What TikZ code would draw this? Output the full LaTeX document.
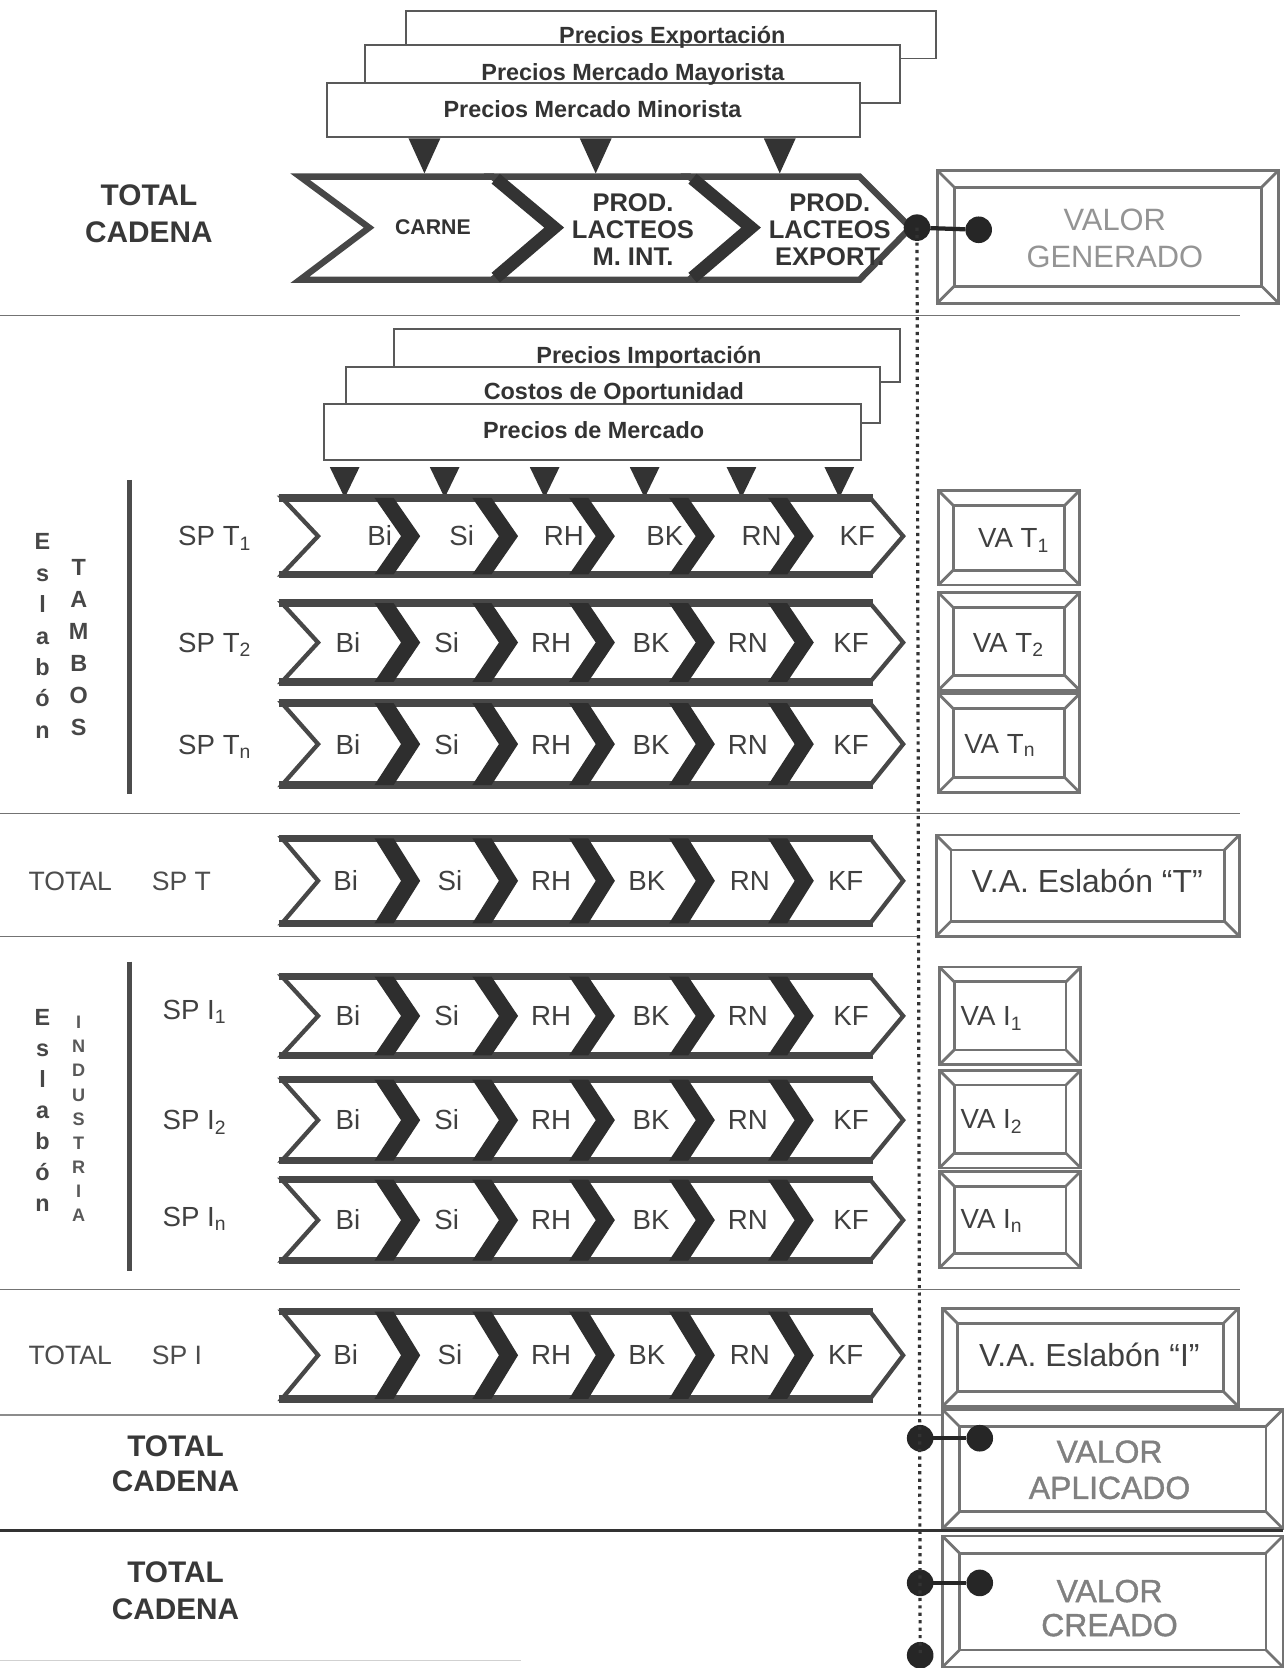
\documentclass[tikz,border=0pt]{standalone}
\usepackage{fontspec}
\setmainfont{Liberation Sans}
\newfontfamily\valfont[FakeBold=1.2]{Liberation Sans}
\usetikzlibrary{calc}
\newcommand\fsz[2]{\fontsize{#1}{#2}\selectfont}
\newcommand\bevbox[5]{%
  \draw[bev] (#1,#2) rectangle (#3,#4);
  \draw[bev] ({#1+#5},{#2+#5}) rectangle ({#3-#5},{#4-#5});
  \draw[bev] (#1,#2) -- ({#1+#5},{#2+#5}) (#3,#2) -- ({#3-#5},{#2+#5})
             (#1,#4) -- ({#1+#5},{#4-#5}) (#3,#4) -- ({#3-#5},{#4-#5});}
\newcommand\chevrow[2]{%
  \pgfmathsetmacro\ym{(#1+#2)/2}%
  \filldraw[chevout] (265,#1) -- (818,#1) -- (849,\ym) -- (818,#2) -- (265,#2) -- (299,\ym) -- cycle;
  \draw[chevedge] (262,#1) -- (821,#1) (262,#2) -- (821,#2);
  \foreach \a in {395,487,578,672,765}{%
    \fill[chevband] ({\a-43},#1) -- ({\a-18},\ym) -- ({\a-43},#2) -- ({\a-25},#2) -- (\a,\ym) -- ({\a-25},#1) -- cycle;}%
}
% #1 baseline y, #2 name prefix, #3 list
\newcommand\chevtext[3]{%
  \foreach \t/\x [count=\i] in {#3}{\node[chtxt] (#2\i) at (\x,#1) {\t};}}
\begin{document}
\begin{tikzpicture}[x=0.5pt,y=-0.5pt,
  every node/.style={inner sep=0pt,outer sep=0pt},
  pbox/.style={draw=black!65,line width=0.9pt,fill=white},
  ptxt/.style={font=\bfseries\fsz{11}{13},text=black!80,anchor=base},
  tri/.style={fill=black!80},
  chtxt/.style={font=\fsz{13}{15},text=black!75,anchor=base},
  bigtxt/.style={font=\bfseries\fsz{14}{17},text=black!78,anchor=base},
  toptxt/.style={font=\bfseries\fsz{12}{14},text=black!80,anchor=base},
  valtxt/.style={font=\fsz{14.5}{16},text=black!42,anchor=base},
  valtxtb/.style={font=\valfont\fsz{15}{17},text=black!50,anchor=base},
  vatxt/.style={font=\fsz{13}{15},text=black!75,anchor=base},
  eslt/.style={font=\bfseries\fsz{11}{13},text=black!72,anchor=base},
  indt/.style={font=\bfseries\fsz{8.5}{10},text=black!65,anchor=base},
  bev/.style={draw=black!55,line width=1.3pt},
  sepl/.style={draw=black!55,line width=0.5pt},
  dot/.style={circle,fill=black!85,minimum size=12.5pt,inner sep=0pt},
  conn/.style={draw=black!85,line width=2pt},
  dotline/.style={draw=black!80,line width=1.5pt,dash pattern=on 1.5pt off 2pt},
  vbar/.style={draw=black!70,line width=2.5pt},
  chevout/.style={fill=white,draw=black!72,line width=2pt,line join=miter},
  chevedge/.style={draw=black!72,line width=3.5pt},
  chevband/.style={fill=black!82},
  bigchev/.style={fill=white,draw=black!72,line width=3pt,line join=miter},
  bigsep/.style={draw=black!80,line width=6pt,line join=miter}]
\useasboundingbox (0,0) rectangle (1209,1568);
\fill[white] (0,0) rectangle (1209,1568);

% ---------------- top price boxes
\draw[pbox] (382,10) rectangle (880,55);
\draw[pbox] (343,42) rectangle (846,97);
\draw[pbox] (307,78) rectangle (808,129);
\node[ptxt] (pexp) at (632,41) {Precios Exportación};
\node[ptxt] (pmay) at (595,76) {Precios Mercado Mayorista};
\node[ptxt] (pmin) at (557,110) {Precios Mercado Minorista};
\foreach \x in {399,560,733}{\fill[tri] ({\x-15},130) -- ({\x+15},130) -- (\x,163) -- cycle;}

% ---------------- TOTAL CADENA (top)
\node[bigtxt] (tc1a) at (140,193) {TOTAL};
\node[bigtxt] (tc1b) at (140,228) {CADENA};

\filldraw[bigchev] (282,166) -- (463,166) -- (520,214) -- (463,263) -- (282,263) -- (347,214) -- cycle;
\filldraw[bigchev] (463,166) -- (648,166) -- (705,214) -- (648,263) -- (463,263) -- (520,214) -- cycle;
\filldraw[bigchev] (648,166) -- (808,166) -- (856,214) -- (808,263) -- (648,263) -- (705,214) -- cycle;
\draw[bigsep] (466,168) -- (521,214) -- (466,261) (651,168) -- (706,214) -- (651,261);
\node[font=\bfseries\fsz{10}{12},text=black!80,anchor=base] (carne) at (407,220) {CARNE};
\node[toptxt] (pl1a) at (595,199) {PROD.};
\node[toptxt] (pl1b) at (595,224) {LACTEOS};
\node[toptxt] (pl1c) at (595,250) {M. INT.};
\node[toptxt] (pl2a) at (780,199) {PROD.};
\node[toptxt] (pl2b) at (780,224) {LACTEOS};
\node[toptxt] (pl2c) at (780,250) {EXPORT.};

\bevbox{881}{160}{1202}{285}{16}
\node[valtxt] (vg1) at (1048,217) {VALOR};
\node[valtxt] (vg2) at (1048,251) {GENERADO};

\draw[sepl] (0,297) -- (1166,297);

% ---------------- second price boxes
\draw[pbox] (370,309) rectangle (846,359);
\draw[pbox] (325,345) rectangle (827,398);
\draw[pbox] (305,380) rectangle (809,432);
\node[ptxt] (pimp) at (610,342) {Precios Importación};
\node[ptxt] (pcos) at (577,376) {Costos de Oportunidad};
\node[ptxt] (pmer) at (558,412) {Precios de Mercado};
\foreach \x in {324,418,512,606,697,789}{\fill[tri] ({\x-14},439) -- ({\x+14},439) -- (\x,468) -- cycle;}

% ---------------- Eslabon TAMBOS
\foreach \l [count=\i] in {E,s,l,a,b,ó,n}{\node[eslt] (te\i) at (40,{517+(\i-1)*29.5}) {\l};}
\foreach \l [count=\i] in {T,A,M,B,O,S}{\node[eslt] (tt\i) at (74,{541+(\i-1)*30}) {\l};}
\draw[vbar] (122,451) -- (122,746);

\chevrow{468}{540}
\chevrow{567}{641}
\chevrow{661}{738}
\chevtext{513}{ra}{Bi/357,Si/434,RH/530,BK/625,RN/716,KF/806}
\chevtext{613}{rb}{Bi/327,Si/420,RH/518,BK/612,RN/703,KF/800}
\chevtext{709}{rc}{Bi/327,Si/420,RH/518,BK/612,RN/703,KF/800}
\node[chtxt] (spt1) at (202,513) {SP T\textsubscript{1}};
\node[chtxt] (spt2) at (202,613) {SP T\textsubscript{2}};
\node[chtxt] (sptn) at (202,709) {SP T\textsubscript{n}};

\bevbox{882}{461}{1015}{550}{14}
\bevbox{882}{557}{1015}{649}{14}
\bevbox{882}{652}{1015}{745}{14}
\node[vatxt] (vat1) at (953,515) {VA T\textsubscript{1}};
\node[vatxt] (vat2) at (948,613) {VA T\textsubscript{2}};
\node[vatxt] (vatn) at (940,708) {VA T\textsubscript{n}};

\draw[sepl] (0,765) -- (1166,765);

% ---------------- TOTAL SP T
\chevrow{788}{868}
\chevtext{837}{rd}{Bi/325,Si/423,RH/518,BK/608,RN/705,KF/795}
\node[font=\fsz{12.5}{15},text=black!70,anchor=base west] (tspt) at (27,837) {TOTAL\hspace{1.5em}SP T};
\bevbox{880}{785}{1165}{880}{14}
\node[vatxt,font=\fsz{15}{17}] (vaet) at (1022,839) {V.A. Eslabón “T”};
\draw[sepl] (0,880) -- (863,880);

% ---------------- Eslabon INDUSTRIA
\foreach \l [count=\i] in {E,s,l,a,b,ó,n}{\node[eslt] (ie\i) at (40,{964+(\i-1)*29.2}) {\l};}
\foreach \l [count=\i] in {I,N,D,U,S,T,R,I,A}{\node[indt] (ii\i) at (74,{967+(\i-1)*22.7}) {\l};}
\draw[vbar] (122,904) -- (122,1195);

\chevrow{918}{992}
\chevrow{1015}{1091}
\chevrow{1109}{1185}
\chevtext{964}{re}{Bi/327,Si/420,RH/518,BK/612,RN/703,KF/800}
\chevtext{1062}{rf}{Bi/327,Si/420,RH/518,BK/612,RN/703,KF/800}
\chevtext{1156}{rg}{Bi/327,Si/420,RH/518,BK/612,RN/703,KF/800}
\node[chtxt] (spi1) at (183,958) {SP I\textsubscript{1}};
\node[chtxt] (spi2) at (183,1062) {SP I\textsubscript{2}};
\node[chtxt] (spin) at (183,1153) {SP I\textsubscript{n}};

\bevbox{883}{909}{1016}{1001}{14}
\bevbox{883}{1006}{1016}{1098}{14}
\bevbox{883}{1101}{1016}{1192}{14}
\node[vatxt,anchor=base west] (vai1) at (903,964) {VA I\textsubscript{1}};
\node[vatxt,anchor=base west] (vai2) at (903,1061) {VA I\textsubscript{2}};
\node[vatxt,anchor=base west] (vain) at (903,1155) {VA I\textsubscript{n}};

\draw[sepl] (0,1212) -- (1166,1212);

% ---------------- TOTAL SP I
\chevrow{1233}{1315}
\chevtext{1283}{rh}{Bi/325,Si/423,RH/518,BK/608,RN/705,KF/795}
\node[font=\fsz{12.5}{15},text=black!70,anchor=base west] (tspi) at (27,1283) {TOTAL\hspace{1.5em}SP I};
\bevbox{886}{1230}{1164}{1322}{14}
\node[vatxt,font=\fsz{15}{17}] (vaei) at (1024,1285) {V.A. Eslabón “I”};

\draw[draw=black!45,line width=1.2pt] (0,1330) -- (886,1330);

% ---------------- VALOR APLICADO / CREADO
\bevbox{886}{1325}{1206}{1437}{16}
\node[valtxtb] (va1) at (1043,1375) {VALOR};
\node[valtxtb] (va2) at (1043,1409) {APLICADO};
\node[bigtxt] (tc2a) at (165,1369) {TOTAL};
\node[bigtxt] (tc2b) at (165,1402) {CADENA};
\draw[draw=black!80,line width=1.5pt] (0,1439) -- (1206,1439);
\bevbox{886}{1444}{1206}{1567}{16}
\node[valtxtb] (vc1) at (1043,1506) {VALOR};
\node[valtxtb] (vc2) at (1043,1538) {CREADO};
\node[bigtxt] (tc3a) at (165,1488) {TOTAL};
\node[bigtxt] (tc3b) at (165,1522) {CADENA};

\draw[draw=black!18,line width=0.5pt] (0,1561) -- (490,1561);

% ---------------- dots and connectors
\node[dot] (g1) at (862,214) {};
\node[dot] (g2) at (920,216) {};
\node[dot] (a1) at (865,1352) {};
\node[dot] (a2) at (921,1352) {};
\node[dot] (c1) at (865,1488) {};
\node[dot] (c2) at (921,1488) {};
\node[dot] (b1) at (865,1556) {};
\draw[dotline] (g1.center) -- (b1.center);
\draw[conn] (g1) -- (g2);
\draw[conn] (a1) -- (a2);
\draw[conn] (c1) -- (c2);
\end{tikzpicture}
\end{document}
